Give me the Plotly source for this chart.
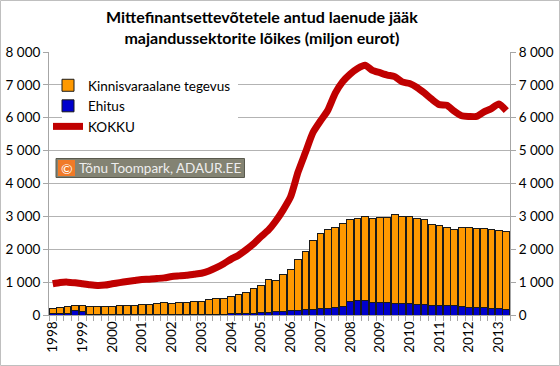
import plotly.graph_objects as go

years = list(range(1998, 2014))
quarters = [f"{y}Q{q}" for y in years for q in range(1, 5)][:62]

# Ehitus (construction) – bottom of stack
ehitus = [50, 40, 50, 130, 120, 20, 20, 20, 20, 20, 20, 20, 20, 20, 20, 20,
          25, 25, 25, 25, 25, 30, 30, 30, 35, 40, 45, 55, 65, 80, 100, 120,
          130, 130, 170, 170, 210, 210, 230, 250, 425, 455, 435, 395, 395, 395, 365, 360,
          335, 325, 323, 303, 293, 293, 303, 262, 242, 242, 242, 202, 202, 182]

# Kinnisvaraalane tegevus (real estate)
kinnisvara = [150, 185, 215, 150, 160, 225, 230, 250, 235, 260, 270, 275, 285, 305, 345, 365,
              330, 345, 365, 395, 395, 440, 470, 480, 535, 580, 640, 745, 835, 1000, 940, 1110,
              1255, 1570, 1755, 2095, 2270, 2385, 2445, 2525, 2470, 2490, 2560, 2535, 2565, 2585, 2705, 2630,
              2655, 2625, 2587, 2457, 2417, 2362, 2312, 2403, 2413, 2393, 2383, 2403, 2383, 2363]

# KOKKU (total)
kokku = [950, 990, 1000, 980, 950, 920, 900, 910, 950, 985, 1020, 1050, 1080, 1090, 1110, 1130,
         1170, 1190, 1210, 1240, 1270, 1340, 1440, 1560, 1700, 1820, 1980, 2160, 2380, 2580, 2860, 3200,
         3600, 4350, 4950, 5550, 5900, 6230, 6750, 7100, 7330, 7500, 7600, 7440, 7370, 7300, 7250, 7090,
         7040, 6920, 6750, 6560, 6400, 6380, 6200, 6060, 6040, 6040, 6180, 6280, 6420, 6220]

tick_years = [str(y) for y in years]

idx = list(range(len(quarters)))
year_pos = [i for i, q in enumerate(quarters) if q.endswith("Q1")]

FONT = "Lato, 'Liberation Sans', Arial, sans-serif"

fig = go.Figure()
fig.add_trace(go.Bar(x=idx, y=ehitus, name="Ehitus", marker=dict(color="#0000CC", line=dict(color="#1a1a1a", width=1)),
                     legendrank=2, hovertext=quarters))
fig.add_trace(go.Bar(x=idx, y=kinnisvara, name="Kinnisvaraalane tegevus",
                     marker=dict(color="#FF9900", line=dict(color="#1a1a1a", width=1)),
                     legendrank=1, hovertext=quarters))
fig.add_trace(go.Scatter(x=idx, y=kokku, name="KOKKU", mode="lines", yaxis="y2",
                         line=dict(color="#C00000", width=7, shape="spline", smoothing=0.6),
                         legendrank=3, hovertext=quarters))

def px_x(p):
    return (p - 49) / 461.0

def px_y(p):
    return (315 - p) / 263.0

shapes = [
    # outer chart border
    dict(type="rect", xref="paper", yref="paper", x0=px_x(0.5), x1=px_x(559.5), y0=px_y(365.5), y1=px_y(0.5),
         line=dict(color="#bfbfbf", width=1), fillcolor="rgba(0,0,0,0)", layer="below"),
    # legend background
    dict(type="rect", xref="paper", yref="paper", x0=px_x(62), x1=px_x(238), y0=px_y(137), y1=px_y(74),
         line=dict(width=0), fillcolor="white", layer="above"),
    # copyright box
    dict(type="rect", xref="paper", yref="paper", x0=px_x(56), x1=px_x(244.5), y0=px_y(177.5), y1=px_y(158.5),
         line=dict(color="#5a5a4e", width=1), fillcolor="#838373", layer="above"),
    dict(type="rect", xref="paper", yref="paper", x0=px_x(58), x1=px_x(75), y0=px_y(176), y1=px_y(160),
         line=dict(width=0), fillcolor="#F07A28", layer="above"),
]

annotations = [
    dict(text="<b>Mittefinantsettevõtetele antud laenude jääk<br>majandussektorite lõikes (miljon eurot)</b>",
         xref="paper", yref="paper", x=px_x(262), y=px_y(5), xanchor="center", yanchor="top",
         showarrow=False, font=dict(family=FONT, size=16, color="#000000")),
    dict(text="©", xref="paper", yref="paper", x=px_x(66.5), y=px_y(168), xanchor="center", yanchor="middle",
         showarrow=False, font=dict(family=FONT, size=14, color="#ffffff")),
    dict(text="Tõnu Toompark, ADAUR.EE", xref="paper", yref="paper", x=px_x(77), y=px_y(168),
         xanchor="left", yanchor="middle", showarrow=False, font=dict(family=FONT, size=13.5, color="#eeeeee")),
]

fig.update_layout(
    width=560, height=366,
    margin=dict(l=49, r=50, t=52, b=51, autoexpand=False),
    paper_bgcolor="white", plot_bgcolor="white",
    barmode="stack", bargap=0.1,
    separators=", ",
    font=dict(family=FONT, size=13, color="#000000"),
    showlegend=True,
    legend=dict(x=px_x(48), y=px_y(70), xanchor="left", yanchor="top", bgcolor="rgba(0,0,0,0)",
                traceorder="normal", font=dict(family=FONT, size=13.5), itemwidth=30,
                tracegroupgap=0, borderwidth=0),
    xaxis=dict(range=[-0.5, len(quarters) - 0.5], tickvals=year_pos, ticktext=tick_years,
               tickangle=-90, ticks="", showgrid=False, showline=True, linecolor="#a6a6a6", linewidth=1,
               zeroline=False, automargin=False, tickfont=dict(family=FONT, size=13.5),
               minor=dict(ticks="outside", ticklen=5, tickcolor="#a6a6a6",
                          tickvals=[i - 0.5 for i in idx] + [len(quarters) - 0.5], showgrid=False)),
    yaxis=dict(range=[0, 8000], dtick=1000, tickformat=",d", showgrid=True, gridcolor="#b3b3b3", gridwidth=1,
               showline=True, linecolor="#a6a6a6", ticks="outside", ticklen=5, tickcolor="#a6a6a6",
               zeroline=False, automargin=False, tickfont=dict(family=FONT, size=13.5)),
    yaxis2=dict(range=[0, 8000], dtick=1000, tickformat=",d", overlaying="y", side="right", showgrid=False,
                showline=True, linecolor="#a6a6a6", ticks="outside", ticklen=5, tickcolor="#a6a6a6",
                zeroline=False, automargin=False, tickfont=dict(family=FONT, size=13.5)),
    shapes=shapes,
    annotations=annotations,
)

fig.write_html("out.html", config={"displayModeBar": False},
               post_script="document.body.style.margin='0';document.body.style.padding='0';")
